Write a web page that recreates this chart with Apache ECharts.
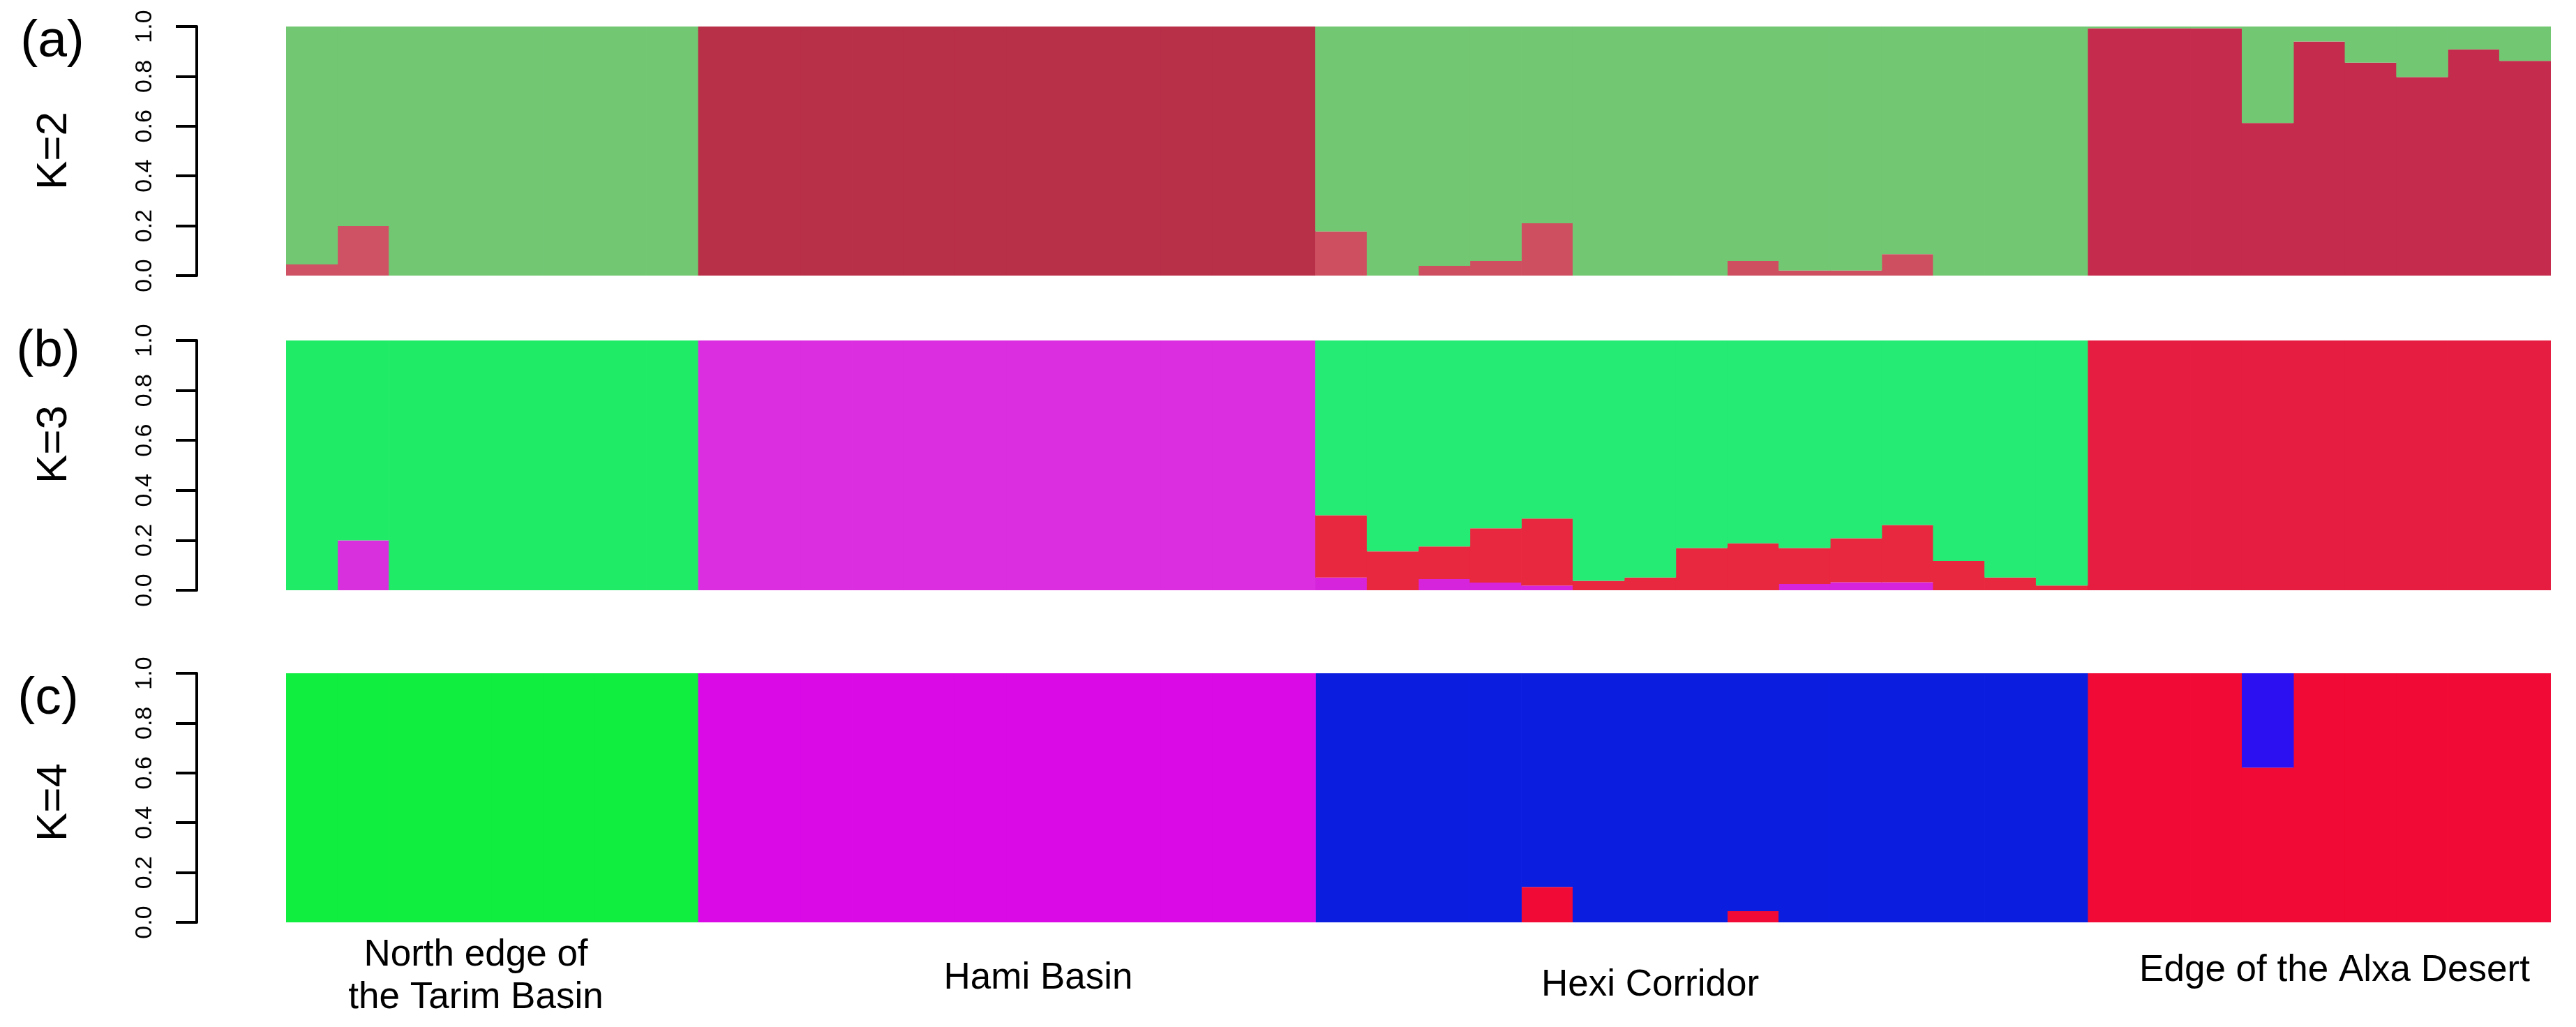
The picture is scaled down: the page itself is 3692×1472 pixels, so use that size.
<!DOCTYPE html>
<html>
<head>
<meta charset="utf-8">
<title>STRUCTURE K=2-4</title>
<script src="https://cdn.jsdelivr.net/npm/echarts@6/dist/echarts.min.js"></script>
<style>
  html, body { margin: 0; padding: 0; background: #fff; }
  #main { width: 3692px; height: 1472px; }
</style>
</head>
<body>
<div id="main"></div>
<script>
// populations in plot order and number of individuals in each
const groupNames = ['North edge of\nthe Tarim Basin', 'Hami Basin', 'Hexi Corridor', 'Edge of the Alxa Desert'];
const groupSizes = [8, 12, 15, 9];
const yTicks = ['0.0', '0.2', '0.4', '0.6', '0.8', '1.0'];
const kLabels = ['K=2', 'K=3', 'K=4'];
const panelLetters = ['(a)', '(b)', '(c)'];

// K=2 (stacked bottom -> top: red, green)
const k2Red = [
  0.045, 0.199, 0, 0, 0, 0, 0, 0,
  1, 1, 1, 1, 1, 1, 1, 1, 1, 1, 1, 1,
  0.177, 0, 0.039, 0.059, 0.21, 0, 0, 0, 0.059, 0.02, 0.02, 0.086, 0, 0, 0,
  0.993, 0.993, 0.993, 0.613, 0.94, 0.855, 0.797, 0.908, 0.862
];
const k2Green = [
  0.955, 0.801, 1, 1, 1, 1, 1, 1,
  0, 0, 0, 0, 0, 0, 0, 0, 0, 0, 0, 0,
  0.823, 1, 0.961, 0.941, 0.79, 1, 1, 1, 0.941, 0.98, 0.98, 0.914, 1, 1, 1,
  0.007, 0.007, 0.007, 0.387, 0.06, 0.145, 0.203, 0.092, 0.138
];

// K=3 (bottom -> top: magenta, red, green)
const k3Magenta = [
  0, 0.2, 0, 0, 0, 0, 0, 0,
  1, 1, 1, 1, 1, 1, 1, 1, 1, 1, 1, 1,
  0.051, 0, 0.045, 0.031, 0.019, 0, 0, 0, 0, 0.025, 0.032, 0.032, 0, 0, 0,
  0, 0, 0, 0, 0, 0, 0, 0, 0
];
const k3Red = [
  0, 0, 0, 0, 0, 0, 0, 0,
  0, 0, 0, 0, 0, 0, 0, 0, 0, 0, 0, 0,
  0.249, 0.156, 0.13, 0.217, 0.268, 0.038, 0.051, 0.169, 0.188, 0.144, 0.176, 0.229, 0.117, 0.051, 0.019,
  1, 1, 1, 1, 1, 1, 1, 1, 1
];
const k3Green = [
  1, 0.8, 1, 1, 1, 1, 1, 1,
  0, 0, 0, 0, 0, 0, 0, 0, 0, 0, 0, 0,
  0.7, 0.844, 0.825, 0.752, 0.713, 0.962, 0.949, 0.831, 0.812, 0.831, 0.792, 0.739, 0.883, 0.949, 0.981,
  0, 0, 0, 0, 0, 0, 0, 0, 0
];

// K=4 (bottom -> top: red, blue, magenta, green)
const k4Red = [
  0, 0, 0, 0, 0, 0, 0, 0,
  0, 0, 0, 0, 0, 0, 0, 0, 0, 0, 0, 0,
  0, 0, 0, 0, 0.142, 0, 0, 0, 0.045, 0, 0, 0, 0, 0, 0,
  1, 1, 1, 0.621, 1, 1, 1, 1, 1
];
const k4Blue = [
  0, 0, 0, 0, 0, 0, 0, 0,
  0, 0, 0, 0, 0, 0, 0, 0, 0, 0, 0, 0,
  1, 1, 1, 1, 0.858, 1, 1, 1, 0.955, 1, 1, 1, 1, 1, 1,
  0, 0, 0, 0.379, 0, 0, 0, 0, 0
];
const k4Magenta = [
  0, 0, 0, 0, 0, 0, 0, 0,
  1, 1, 1, 1, 1, 1, 1, 1, 1, 1, 1, 1,
  0, 0, 0, 0, 0, 0, 0, 0, 0, 0, 0, 0, 0, 0, 0,
  0, 0, 0, 0, 0, 0, 0, 0, 0
];
const k4Green = [
  1, 1, 1, 1, 1, 1, 1, 1,
  0, 0, 0, 0, 0, 0, 0, 0, 0, 0, 0, 0,
  0, 0, 0, 0, 0, 0, 0, 0, 0, 0, 0, 0, 0, 0, 0,
  0, 0, 0, 0, 0, 0, 0, 0, 0
];

// individual ids + which population each belongs to
const individuals = [];
const groupOf = [];
groupSizes.forEach((n, g) => {
  for (let i = 0; i < n; i++) {
    individuals.push('ind' + (individuals.length + 1));
    groupOf.push(g);
  }
});

// colours per population (North, Hami, Hexi, Alxa) – the R plot shades differ slightly
const colors = {
  k2Red: ['#CE5264', '#B82F48', '#CE5060', '#C42B4C'],
  k2Green: '#72C773',
  k3Magenta: ['#D830DC', '#DB2EE0', '#D624DC', '#DB2EE0'],
  k3Red: ['#E8263F', '#E8263F', '#E8283F', '#E61D40'],
  k3Green: ['#20EB67', '#24EA74', '#25EA74', '#24EA74'],
  k4Red: '#F10A35',
  k4Blue: ['#0B1EE0', '#0B1EE0', '#0B1EE0', '#2C10F2'],
  k4Magenta: '#D90AE6',
  k4Green: '#10EE3F'
};

const byGroup = (c) => typeof c === 'string' ? c : (p) => c[groupOf[p.dataIndex]];

const panels = [
  { top: 38, height: 357, layers: [[k2Red, colors.k2Red], [k2Green, colors.k2Green]] },
  { top: 488, height: 358, layers: [[k3Magenta, colors.k3Magenta], [k3Red, colors.k3Red], [k3Green, colors.k3Green]] },
  { top: 965, height: 357, layers: [[k4Red, colors.k4Red], [k4Blue, colors.k4Blue], [k4Magenta, colors.k4Magenta], [k4Green, colors.k4Green]] }
];

const FONT = '"Liberation Sans", Arial, Helvetica, sans-serif';

const grid = [], xAxis = [], yAxis = [], series = [];
panels.forEach((p, i) => {
  grid.push({ left: 410, right: 36, top: p.top, height: p.height });
  xAxis.push({ type: 'category', gridIndex: i, data: individuals, show: false });
  yAxis.push({
    type: 'value', gridIndex: i, min: 0, max: 1, interval: 0.2,
    offset: 128,
    splitLine: { show: false },
    axisLine: { show: true, lineStyle: { color: '#000', width: 4 } },
    axisTick: { show: true, length: 30, lineStyle: { color: '#000', width: 4 } },
    axisLabel: {
      rotate: 90, margin: 57, fontSize: 34, color: '#000', fontFamily: FONT,
      formatter: (v) => yTicks[Math.round(v / 0.2)]
    }
  });
  p.layers.forEach((layer) => {
    series.push({
      type: 'bar', xAxisIndex: i, yAxisIndex: i, stack: 'k' + i,
      // a hair over 100% so neighbouring bars leave no seams
      barWidth: '101%', barCategoryGap: '0%',
      data: layer[0],
      itemStyle: { color: byGroup(layer[1]) },
      silent: true
    });
  });
});

const graphic = [];
const kY = [216, 637, 1150];
const letterY = [60, 504, 1002];
const letterX = [75, 69, 69];
kLabels.forEach((t, i) => {
  graphic.push({
    type: 'text', x: 78, y: kY[i], rotation: Math.PI / 2,
    style: { text: t, font: '62px ' + FONT, fill: '#000', align: 'center', verticalAlign: 'middle' }
  });
  graphic.push({
    type: 'text', x: letterX[i], y: letterY[i],
    style: { text: panelLetters[i], font: '75px ' + FONT, fill: '#000', align: 'center', verticalAlign: 'middle' }
  });
});

// population names under the bottom panel
const nameSpots = [[682, 1369], [1488, 1402], [2365, 1412], [3346, 1391]];
groupNames.forEach((name, g) => {
  name.split('\n').forEach((line, k) => {
    graphic.push({
      type: 'text', x: nameSpots[g][0], y: nameSpots[g][1] + k * 61,
      style: { text: line, font: '53px ' + FONT, fill: '#000', align: 'center', verticalAlign: 'middle' }
    });
  });
});

const chart = echarts.init(document.getElementById('main'), null, { renderer: 'canvas' });
chart.setOption({
  animation: false,
  backgroundColor: '#fff',
  grid: grid,
  xAxis: xAxis,
  yAxis: yAxis,
  series: series,
  graphic: graphic
});
</script>
</body>
</html>
